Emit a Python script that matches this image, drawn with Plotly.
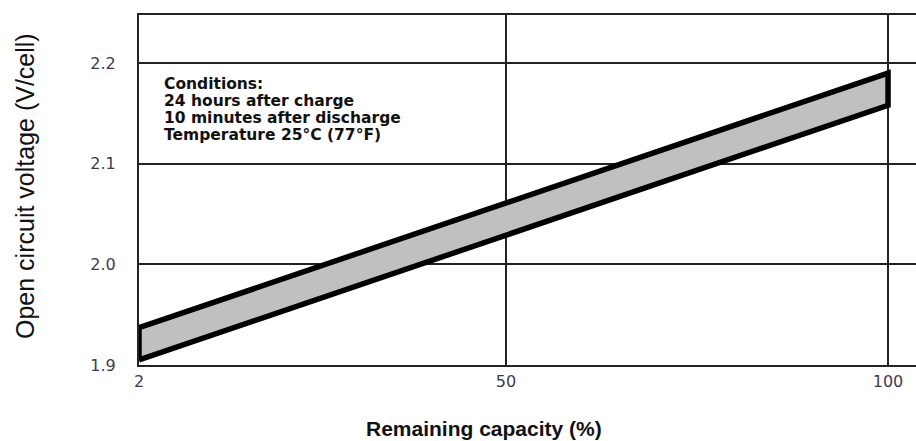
import plotly.graph_objects as go

# Open circuit voltage band vs. remaining capacity
capacity_pct = [2, 100]
ocv_lower = [1.905, 2.158]
ocv_upper = [1.937, 2.190]

x_ticks = [2, 50, 100]
y_ticks = [1.9, 2.0, 2.1, 2.2]

conditions = [
    "Conditions:",
    "24 hours after charge",
    "10 minutes after discharge",
    "Temperature 25°C (77°F)",
]

W, H = 916, 441
L, T, B, R = 139, 15, 76, 0
plot_w = W - L - R
plot_h = H - T - B


def px_to_paper(px, py):
    return (px - L) / plot_w, (H - B - py) / plot_h


# closed polygon: lower edge left->right, upper edge right->left
band_x = capacity_pct + capacity_pct[::-1] + [capacity_pct[0]]
band_y = ocv_lower + ocv_upper[::-1] + [ocv_lower[0]]

fig = go.Figure()
fig.add_trace(go.Scatter(
    x=band_x, y=band_y,
    mode="lines",
    fill="toself",
    fillcolor="#c0c0c0",
    line=dict(color="#000000", width=5.5),
    hoverinfo="skip",
    showlegend=False,
))

grid_col = "#222222"
fig.update_xaxes(
    range=[2, 103.66],
    tickvals=x_ticks,
    ticktext=[str(v) for v in x_ticks],
    showgrid=True, gridcolor=grid_col, gridwidth=2,
    showline=True, linecolor=grid_col, linewidth=2, mirror=True,
    zeroline=False, ticks="",
    ticklabelstandoff=1,
    tickfont=dict(family="DejaVu Sans", size=16, color="#3b3b52"),
)
fig.update_yaxes(
    range=[1.9, 2.2477],
    tickvals=y_ticks,
    tickformat=".1f",
    showgrid=True, gridcolor=grid_col, gridwidth=2,
    showline=True, linecolor=grid_col, linewidth=2, mirror=False,
    zeroline=False, ticks="",
    ticklabelstandoff=18,
    tickfont=dict(family="DejaVu Sans", size=16, color="#3b3b52"),
)

annotations = []
line_y = [84, 101, 118, 135]
for text, py in zip(conditions, line_y):
    ax, ay = px_to_paper(162, py)
    annotations.append(dict(
        x=ax, y=ay, xref="paper", yref="paper",
        text=f"<b>{text}</b>", showarrow=False,
        xanchor="left", yanchor="middle",
        font=dict(family="DejaVu Sans", size=15.5, color="#111111"),
    ))

tx, ty = px_to_paper(484, 428)
annotations.append(dict(
    x=tx, y=ty, xref="paper", yref="paper",
    text="<b>Remaining capacity (%)</b>", showarrow=False,
    xanchor="center", yanchor="middle",
    font=dict(family="Liberation Sans, Arial, sans-serif", size=21, color="#111111"),
))

yx, yy = px_to_paper(25, 186)
annotations.append(dict(
    x=yx, y=yy, xref="paper", yref="paper",
    text="Open circuit voltage (V/cell)", showarrow=False,
    textangle=-90,
    xanchor="center", yanchor="middle",
    font=dict(family="Liberation Sans, Arial, sans-serif", size=25, color="#111111"),
))

fig.update_layout(
    width=W, height=H,
    margin=dict(l=L, r=R, t=T, b=B, pad=0),
    paper_bgcolor="#ffffff",
    plot_bgcolor="#ffffff",
    annotations=annotations,
)

fig.write_html("out.html")
